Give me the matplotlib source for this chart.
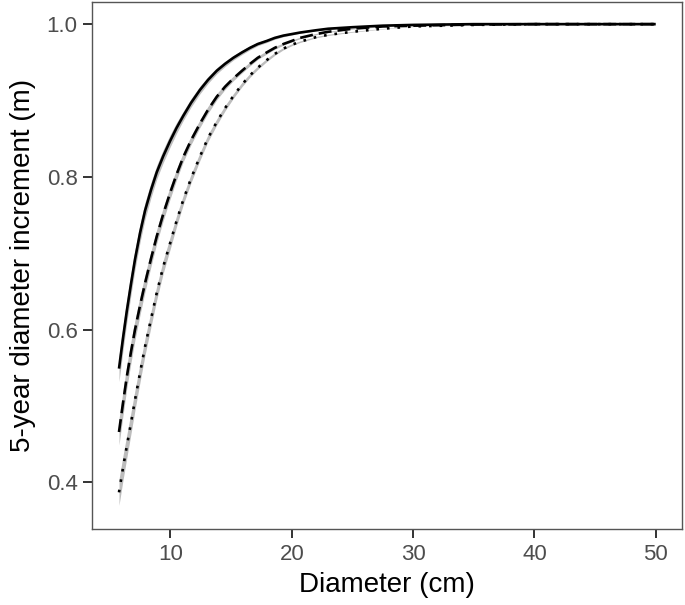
import matplotlib
matplotlib.use("Agg")
import matplotlib.pyplot as plt
import numpy as np

# Diameter (cm)
diameter = [5.76, 6.1, 6.4, 6.75, 7.08, 7.5, 7.91, 8.4, 8.87, 9.4, 9.97, 10.5, 11.06, 11.7,
            12.44, 13.1, 13.82, 14.5, 15.19, 15.9, 16.56, 17.2, 17.94, 18.6, 19.31, 20.0,
            20.68, 22.0, 23.0, 25.0, 27.5, 30.0, 35.0, 40.0, 45.0, 50.0]
# three fitted curves
solid_vals = [0.549, 0.590, 0.624, 0.660, 0.692, 0.727, 0.756, 0.783, 0.806, 0.827, 0.847,
              0.864, 0.880, 0.897, 0.914, 0.927, 0.939, 0.948, 0.956, 0.963, 0.969, 0.974,
              0.978, 0.982, 0.985, 0.987, 0.989, 0.992, 0.994, 0.996, 0.998, 0.999, 1.000,
              1.000, 1.000, 1.000]
dashed_vals = [0.466, 0.505, 0.538, 0.571, 0.600, 0.632, 0.661, 0.693, 0.722, 0.751, 0.779,
               0.803, 0.826, 0.848, 0.870, 0.888, 0.905, 0.918, 0.929, 0.939, 0.948, 0.956,
               0.963, 0.969, 0.974, 0.978, 0.982, 0.987, 0.990, 0.994, 0.997, 0.998, 0.9995,
               1.000, 1.000, 1.000]
dotted_vals = [0.387, 0.420, 0.447, 0.478, 0.508, 0.544, 0.578, 0.614, 0.648, 0.682, 0.713,
               0.742, 0.770, 0.798, 0.827, 0.851, 0.872, 0.890, 0.906, 0.921, 0.933, 0.943,
               0.953, 0.961, 0.968, 0.973, 0.977, 0.983, 0.986, 0.990, 0.994, 0.997, 0.999,
               1.000, 1.000, 1.000]
# half-width of grey confidence band
ci_half = [0.017, 0.016, 0.015, 0.014, 0.013, 0.012, 0.011, 0.010, 0.009, 0.0085, 0.008,
           0.007, 0.006, 0.0055, 0.005, 0.0045, 0.004, 0.0035, 0.003, 0.0028, 0.0025, 0.0022,
           0.002, 0.0018, 0.0015, 0.0012, 0.001, 0.0009, 0.0008, 0.0005, 0.0003, 0.0002,
           0.0001, 0.0, 0.0, 0.0]

x_ticks = [10, 20, 30, 40, 50]
y_ticks = [0.4, 0.6, 0.8, 1.0]

plt.rcParams['font.family'] = ['Liberation Sans', 'DejaVu Sans']

fig = plt.figure(figsize=(6.85, 6.05), dpi=100)
ax = fig.add_axes([92.3 / 685, 76 / 605, 590 / 685, 527 / 605])

x = np.array(diameter)
ci = np.array(ci_half)
lw = 1.9
series = [(solid_vals, '-'), (dashed_vals, (0, (4.9, 2.3))), (dotted_vals, (0, (1, 3)))]
for vals, style in series:
    v = np.array(vals)
    ax.fill_between(x, v - ci, v + ci, color='#BDBDBD', linewidth=0, zorder=1)
for vals, style in series:
    ax.plot(x, vals, color='black', linestyle=style, linewidth=lw, zorder=3,
            dash_capstyle='butt', solid_capstyle='butt', solid_joinstyle='round')

ax.set_xlim(3.56, 52.19)
ax.set_ylim(0.339, 1.029)
ax.set_xticks(x_ticks)
ax.set_yticks(y_ticks)
ax.set_xticklabels([str(t) for t in x_ticks])
ax.set_yticklabels([f"{t:.1f}" for t in y_ticks])
ax.tick_params(axis='both', length=6.5, width=1.4, color='#333333', labelcolor='#4D4D4D',
               labelsize=16, pad=4)
for s in ax.spines.values():
    s.set_color('#555555')
    s.set_linewidth(1.0)
ax.set_xlabel('Diameter (cm)', fontsize=20, color='black', labelpad=5)
ax.set_ylabel('5-year diameter increment (m)', fontsize=20, color='black', labelpad=8)

fig.savefig('out.png', dpi=100)
